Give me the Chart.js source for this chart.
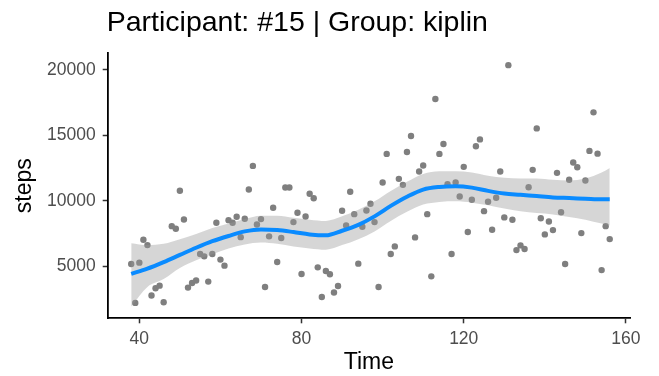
<!DOCTYPE html>
<html>
<head>
<meta charset="utf-8">
<script src="https://cdn.jsdelivr.net/npm/chart.js@4"></script>
<style>
  html, body { margin: 0; padding: 0; background: #ffffff; }
  #wrap { width: 659px; height: 376px; position: relative; }
</style>
</head>
<body>
<div id="wrap"><canvas id="c" width="659" height="376"></canvas></div>
<script>
// ---- data ----
const titleText = "Participant: #15 | Group: kiplin";
const xLabel = "Time";
const yLabel = "steps";

const days = [38,39,40,41,42,43,44,45,46,48,49,50,51,52,53,54,55,56,57,58,59,60,61,62,63,64,65,66,67,68,69,70,71,72,73,74,75,76,77,78,79,80,81,82,83,84,85,86,87,88,89,90,91,92,93,94,95,96,97,98,99,100,101,102,103,104,105,106,107,108,109,110,111,112,113,114,115,116,117,118,119,120,121,122,123,124,125,126,127,128,129,130,131,132,133,134,135,136,137,138,139,140,141,142,143,144,145,146,147,148,149,150,151,152,153,154,155,156];
const steps = [5150,2180,5260,7015,6600,2740,3300,3500,2230,8050,7850,10760,8560,3350,3700,3890,5920,5740,3810,5920,8310,5490,5030,8510,8310,8770,7210,8620,10850,12660,8180,8590,3400,7270,9460,5310,7140,11010,11010,8360,9080,4390,8790,10530,10190,4900,2630,4620,4370,2970,3470,9230,8110,10680,8970,5180,8010,9250,9760,8360,3400,11390,13580,5920,6500,11670,11210,13730,14950,7190,12230,12690,8970,4210,17780,13580,14340,11260,5920,11390,10320,12590,7600,10070,14160,14690,9200,9920,7780,10220,12230,8720,20370,8540,6220,6580,6300,11030,12360,15530,8660,7420,8410,7750,12130,9120,5150,11600,12920,12560,7520,11540,13810,16760,13600,4690,8050,7060];

const fitTime  = [38,42,46,50,54,58,62,66,70,74,78,82,86,90,94,98,102,106,110,114,118,122,126,130,134,138,142,146,150,154,156];
const fitMean  = [4400,4800,5300,5850,6400,6900,7300,7650,7800,7750,7600,7420,7350,7700,8150,8800,9600,10300,10850,11050,11100,11000,10750,10550,10450,10350,10250,10200,10150,10100,10100];
const fitLower = [1900,3400,4000,4850,5450,5900,6350,6650,6800,6700,6500,6350,6250,6600,7050,7650,8450,9150,9700,9900,9950,9850,9650,9400,9200,9050,8950,8750,8550,8250,8100];
const fitUpper = [6750,6600,6700,7050,7450,7900,8250,8600,8850,8850,8700,8550,8450,8800,9300,9950,10750,11450,12050,12250,12250,12150,11900,11750,11700,11700,11600,11550,11700,12150,12500];

const xTicks = [40,80,120,160];
const yTicks = [5000,10000,15000,20000];

// ---- build ----
const pts = days.map((d,i)=>({x:d, y:steps[i]}));
const mk = arr => fitTime.map((t,i)=>({x:t, y:arr[i]}));

const FONT = '"Liberation Sans", Arial, Helvetica, sans-serif';

const titlePlugin = {
  id: 'leftTitle',
  afterDraw(chart) {
    const ctx = chart.ctx;
    ctx.save();
    ctx.font = '28.5px ' + FONT;
    ctx.fillStyle = '#000000';
    ctx.textAlign = 'left';
    ctx.textBaseline = 'alphabetic';
    ctx.fillText(titleText, chart.chartArea.left - 1, 31);
    ctx.restore();
  }
};

new Chart(document.getElementById('c'), {
  type: 'scatter',
  data: {
    datasets: [
      { type:'line', data: mk(fitLower), borderWidth:0, borderColor:'rgba(0,0,0,0)', pointRadius:0, fill:false, cubicInterpolationMode:'monotone', order:2 },
      { type:'line', data: mk(fitUpper), borderWidth:0, borderColor:'rgba(0,0,0,0)', pointRadius:0, fill:'-1', backgroundColor:'rgba(153,153,153,0.4)', cubicInterpolationMode:'monotone', order:2 },
      { type:'line', data: mk(fitMean), borderWidth:4, borderColor:'#0a8bff', pointRadius:0, fill:false, cubicInterpolationMode:'monotone', borderCapStyle:'butt', order:1 },
      { type:'scatter', data: pts, pointRadius:3.2, pointBorderWidth:0, backgroundColor:'#7f7f7f', borderColor:'#7f7f7f', order:3 }
    ]
  },
  options: {
    responsive: false,
    animation: false,
    devicePixelRatio: 1,
    layout: { padding: { left: 0, right: 29, top: 53, bottom: 0 } },
    plugins: { legend: { display:false }, tooltip: { enabled:false }, title: { display:false } },
    scales: {
      x: {
        type: 'linear',
        min: 32.2, max: 161,
        afterBuildTicks: s => { s.ticks = xTicks.map(v=>({value:v})); },
        afterFit: s => { s.height = 57.7; },
        grid: { drawOnChartArea:false, drawTicks:true, tickLength:5, tickWidth:1.5, tickColor:'#333333' },
        border: { display:true, color:'#000000', width:1.8 },
        ticks: { color:'#4d4d4d', font:{ family: FONT, size:17.5 }, padding:5, maxRotation:0, callback: v => String(v) },
        title: { display:true, text:xLabel, color:'#000000', font:{ family: FONT, size:23 }, padding:{ top:0, bottom:0 } }
      },
      y: {
        type: 'linear',
        min: 1000, max: 21300,
        afterBuildTicks: s => { s.ticks = yTicks.map(v=>({value:v})); },
        afterFit: s => { s.width = 107.7; },
        grid: { drawOnChartArea:false, drawTicks:true, tickLength:5, tickWidth:1.5, tickColor:'#333333' },
        border: { display:true, color:'#000000', width:1.8 },
        ticks: { color:'#4d4d4d', font:{ family: FONT, size:17.5 }, padding:7, callback: v => String(v) },
        title: { display:true, text:yLabel, color:'#000000', font:{ family: FONT, size:23 }, padding:{ top:11, bottom:0 } }
      }
    }
  },
  plugins: [titlePlugin]
});
</script>
</body>
</html>
